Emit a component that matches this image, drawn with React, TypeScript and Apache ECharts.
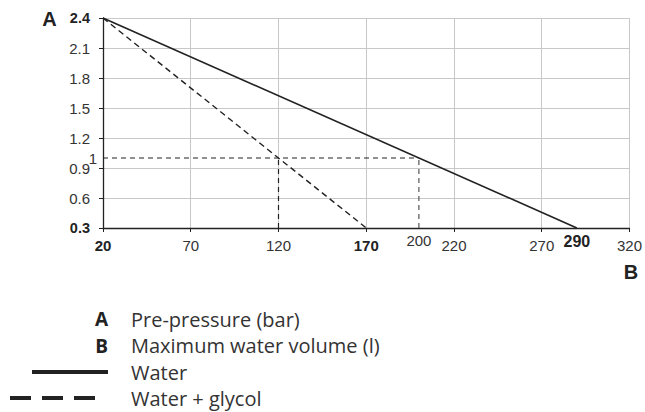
import React, { useEffect, useRef } from "react";
import * as echarts from "echarts";

// Axis ranges / ticks
const xMin = 20;
const xMax = 320;
const xInterval = 50;
const yMin = 0.3;
const yMax = 2.4;
const yInterval = 0.3;
const boldXLabels = [20, 170];
const boldYLabels = [0.3, 2.4];

// Curves: [volume (l), pre-pressure (bar)]
const waterVolume = [20, 290];
const waterPressure = [2.4, 0.3];
const glycolVolume = [20, 170];
const glycolPressure = [2.4, 0.3];

// Reading example
const refPressure = 1;
const refGlycolVolume = 120;
const refWaterVolume = 200;

// Legend texts
const legendKeys = ["A", "B"];
const legendTexts = ["Pre-pressure (bar)", "Maximum water volume (l)"];
const seriesNames = ["Water", "Water + glycol"];

const labelFont = "'Liberation Sans', Arial, sans-serif";
const legendFont = "'Open Sans', 'Noto Sans', sans-serif";
const ink = "#222";
const labelColor = "#333";

export default function App() {
  const ref = useRef<HTMLDivElement>(null);
  useEffect(() => {
    const chart = echarts.init(ref.current!, undefined, { renderer: "svg" });
    const pair = (xs: number[], ys: number[]) => xs.map((x, i) => [x, ys[i]]);
    const guide = {
      type: "line",
      symbol: "none",
      silent: true,
      lineStyle: { color: ink, width: 1.2, type: [5, 4] },
    };
    const txt = (size: number, bold = false) => ({
      fontFamily: labelFont,
      fontSize: size,
      fontWeight: bold ? "bold" : "normal",
      color: bold ? ink : labelColor,
    });
    const option: any = {
      animation: false,
      grid: { left: 103, top: 18, right: 14, bottom: 184, containLabel: false },
      xAxis: {
        type: "value",
        min: xMin,
        max: xMax,
        interval: xInterval,
        axisLine: { show: true, lineStyle: { color: ink, width: 1.3 } },
        axisTick: { show: true, length: 4, lineStyle: { color: ink } },
        splitLine: { show: true, lineStyle: { color: "#c8c8c8", width: 1 } },
        axisLabel: {
          margin: 10,
          ...txt(15),
          formatter: (v: number) =>
            boldXLabels.includes(v) ? `{b|${v}}` : `{n|${v}}`,
          rich: { b: txt(15, true), n: txt(15) },
        },
      },
      yAxis: {
        type: "value",
        min: yMin,
        max: yMax,
        interval: yInterval,
        axisLine: { show: true, lineStyle: { color: ink, width: 1.3 } },
        axisTick: { show: true, length: 4, lineStyle: { color: ink } },
        splitLine: { show: true, lineStyle: { color: "#c8c8c8", width: 1 } },
        axisLabel: {
          margin: 13,
          ...txt(15),
          formatter: (v: number) => {
            const s = v.toFixed(1);
            return boldYLabels.some((b) => Math.abs(b - v) < 1e-6)
              ? `{b|${s}}`
              : `{n|${s}}`;
          },
          rich: { b: txt(14.5, true), n: txt(15) },
        },
      },
      series: [
        {
          name: seriesNames[0],
          type: "line",
          symbol: "none",
          data: pair(waterVolume, waterPressure),
          lineStyle: { color: ink, width: 1.6 },
          z: 5,
        },
        {
          name: seriesNames[1],
          type: "line",
          symbol: "none",
          data: pair(glycolVolume, glycolPressure),
          lineStyle: { color: ink, width: 1.4, type: [6, 4] },
          z: 5,
        },
        {
          ...guide,
          data: [[xMin, refPressure], [refWaterVolume, refPressure]],
          markPoint: {
            symbol: "circle",
            symbolSize: 0,
            silent: true,
            itemStyle: { color: ink, opacity: 1 },
            data: [
              {
                coord: [xMin, refPressure],
                label: { show: true, position: "left", distance: 6, formatter: `${refPressure}`, ...txt(15) },
              },
              {
                coord: [refWaterVolume, yMin],
                label: { show: true, position: "bottom", distance: 5, formatter: `${refWaterVolume}`, ...txt(15) },
              },
              {
                coord: [waterVolume[1], yMin],
                label: { show: true, position: "bottom", distance: 5, formatter: `${waterVolume[1]}`, ...txt(16, true) },
              },
            ],
          },
        },
        { ...guide, data: [[refGlycolVolume, yMin], [refGlycolVolume, refPressure]] },
        {
          ...guide,
          data: [[refWaterVolume, yMin], [refWaterVolume, refPressure]],
          lineStyle: { color: "#555", width: 1.2, type: [5, 4] },
        },
      ],
      graphic: [
        {
          type: "text",
          x: 49.5,
          y: 19,
          style: {
            text: "A",
            font: `bold 20px ${labelFont}`,
            fill: ink,
            textAlign: "center",
            textVerticalAlign: "middle",
          },
        },
        {
          type: "text",
          x: 631,
          y: 272,
          style: {
            text: "B",
            font: `bold 20px ${labelFont}`,
            fill: ink,
            textAlign: "center",
            textVerticalAlign: "middle",
          },
        },
        ...legendKeys.map((k, i) => ({
          type: "text",
          x: 108,
          y: 319 + i * 26.5,
          style: {
            text: k,
            font: `bold 19px ${legendFont}`,
            fill: ink,
            textAlign: "right",
            textVerticalAlign: "middle",
          },
        })),
        ...legendTexts.map((t, i) => ({
          type: "text",
          x: 131,
          y: 319 + i * 26.5,
          style: {
            text: t,
            font: `20px ${legendFont}`,
            fill: labelColor,
            textAlign: "left",
            textVerticalAlign: "middle",
          },
        })),
        {
          type: "line",
          shape: { x1: 32, y1: 372, x2: 108, y2: 372 },
          style: { stroke: ink, lineWidth: 4 },
        },
        {
          type: "line",
          shape: { x1: 10, y1: 398, x2: 95, y2: 398 },
          style: { stroke: ink, lineWidth: 4, lineDash: [21, 11] },
        },
        ...seriesNames.map((t, i) => ({
          type: "text",
          x: 131,
          y: 372 + i * 26,
          style: {
            text: t,
            font: `20px ${legendFont}`,
            fill: labelColor,
            textAlign: "left",
            textVerticalAlign: "middle",
          },
        })),
      ],
    };
    chart.setOption(option);
    return () => chart.dispose();
  }, []);
  return (
    <div
      ref={ref}
      style={{ position: "fixed", left: 0, top: 0, width: 645, height: 412, background: "#fff" }}
    />
  );
}
